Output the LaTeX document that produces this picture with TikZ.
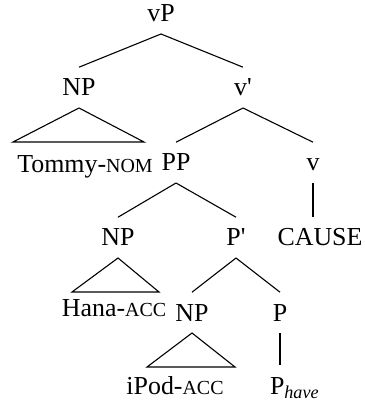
\documentclass[tikz,border=0pt]{standalone}
\usepackage{fontspec}
\setmainfont{Liberation Serif}
\usetikzlibrary{positioning}
\newcommand{\smc}[1]{{\fontsize{10}{12}\selectfont #1}}

\begin{document}
\begin{tikzpicture}[x=0.5bp, y=-0.5bp, line width=0.55bp,
    lab/.style={anchor=base, inner sep=0pt, outer sep=6bp, text height=8.4bp,
                text depth=0pt, font=\fontsize{13}{15}\selectfont}]
    \useasboundingbox (0,0) rectangle (364,404);
    % labels, one row of the tree after another
    \node (vP) at (161,22) [lab] {vP};
    \node (NPa) at (79,96) [lab] {NP};
    \node (vbar) at (243,96) [lab] {v\textquotesingle};
    \node (tommy) at (85,173) [lab] {Tommy-\smc{NOM}};
    \node (PP) at (176,171) [lab] {PP};
    \node (v) at (313,171) [lab] {v};
    \node (NPb) at (118,246) [lab] {NP};
    \node (Pbar) at (236,246) [lab] {P\textquotesingle};
    \node (cause) at (320,246) [lab] {CAUSE};
    \node (hana) at (114,316) [lab] {Hana-\smc{ACC}};
    \node (NPc) at (192,321) [lab] {NP};
    \node (P) at (280,321) [lab] {P};
    \node (ipod) at (175,394) [lab] {iPod-\smc{ACC}};
    \node (Phave) at (258,394) [lab, anchor=base west] {P\textsubscript{\textit{have}}};
    % branches
    \draw (vP.south) -- (NPa.north);
    \draw (vP.south) -- (vbar.north);
    \draw (vbar.south) -- (PP.north);
    \draw (vbar.south) -- (v.north);
    \draw (PP.south) -- (NPb.north);
    \draw (PP.south) -- (Pbar.north);
    \draw (Pbar.south) -- (NPc.north);
    \draw (Pbar.south) -- (P.north);
    \draw (v.south) -- (v.south |- cause.north);
    \draw (P.south) -- (P.south |- Phave.north);
    % triangles over the phrases
    \coordinate (ta) at (13,142);
    \coordinate (tb) at (144,142);
    \draw (NPa.south) -- (ta) -- (tb) -- cycle;
    \coordinate (ha) at (72,292);
    \coordinate (hb) at (159,292);
    \draw (NPb.south) -- (ha) -- (hb) -- cycle;
    \coordinate (ia) at (147,367);
    \coordinate (ib) at (235,367);
    \draw (NPc.south) -- (ia) -- (ib) -- cycle;
\end{tikzpicture}
\end{document}
